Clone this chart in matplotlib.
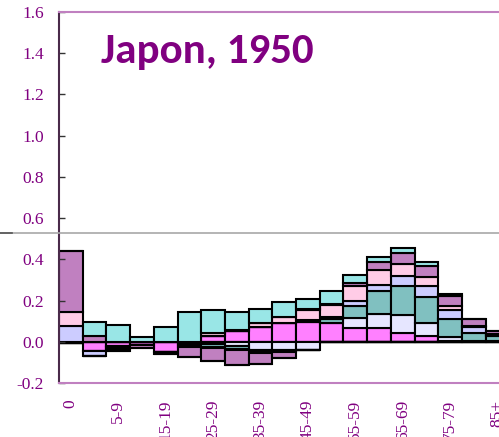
import matplotlib
matplotlib.use("Agg")
import matplotlib.pyplot as plt
from matplotlib.lines import Line2D
import numpy as np

plt.rcParams['font.family'] = 'serif'
plt.rcParams['font.serif'] = ['Liberation Serif', 'DejaVu Serif']

ages = ['0', '1-4', '5-9', '10-14', '15-19', '20-24', '25-29', '30-34', '35-39',
        '40-44', '45-49', '50-54', '55-59', '60-64', '65-69', '70-74', '75-79',
        '80-84', '85+']

# components, stacked from zero outward in this order
comp_a = [-0.004, -0.047, -0.020, -0.018, -0.050, -0.012, 0.027, 0.050, 0.072,
          0.090, 0.095, 0.090, 0.067, 0.068, 0.045, 0.030, 0.005, 0.003, 0.002]
comp_b = [0.0, 0.0, -0.005, 0.0, 0.0, -0.003, -0.012, -0.022, -0.038,
          -0.042, -0.040, 0.0, 0.047, 0.067, 0.085, 0.060, 0.016, 0.003, 0.002]
comp_c = [0.0, 0.0, -0.008, 0.0, 0.0, -0.012, -0.015, -0.012, -0.012,
          -0.006, 0.004, 0.020, 0.062, 0.110, 0.143, 0.126, 0.090, 0.038, 0.025]
comp_d = [0.077, -0.023, 0.0, 0.0, 0.0, 0.0, -0.005, -0.004, -0.005,
          0.0, 0.008, 0.012, 0.024, 0.031, 0.044, 0.054, 0.042, 0.030, 0.006]
comp_e = [0.069, 0.0, 0.0, 0.0, 0.0, 0.0, 0.015, 0.008, 0.018,
          0.030, 0.045, 0.055, 0.070, 0.070, 0.061, 0.046, 0.022, 0.003, 0.003]
comp_f = [0.294, 0.030, -0.012, -0.010, -0.008, -0.045, -0.061, -0.075, -0.053,
          -0.029, 0.005, 0.008, 0.015, 0.040, 0.054, 0.053, 0.047, 0.032, 0.012]
comp_g = [0.0, 0.068, 0.082, 0.022, 0.073, 0.146, 0.110, 0.088, 0.070,
          0.072, 0.050, 0.060, 0.039, 0.024, 0.025, 0.017, 0.008, 0.0, 0.002]

components = [comp_a, comp_b, comp_c, comp_d, comp_e, comp_f, comp_g]
colors = ['#FF80FF', '#E6E6FF', '#80C0C0', '#CCCCFF', '#FFCCE6', '#C080C0', '#99E6E6']

title = "Japon, 1950"
purple = '#800080'

W, H = 499, 437
fig = plt.figure(figsize=(W / 100, H / 100), dpi=100)
ax = fig.add_axes([59 / W, 1 - 383 / H, 1 - 59 / W, (383 - 12) / H])

x = np.arange(len(ages))
pos_base = np.zeros(len(ages))
neg_base = np.zeros(len(ages))
for vals, col in zip(components, colors):
    v = np.array(vals)
    p = np.where(v > 0, v, 0)
    n = np.where(v < 0, v, 0)
    ax.bar(x, p, bottom=pos_base, width=1.0, color=col, edgecolor='black', linewidth=1.5)
    ax.bar(x, n, bottom=neg_base, width=1.0, color=col, edgecolor='black', linewidth=1.5)
    pos_base += p
    neg_base += n

ax.set_xlim(-0.5, 18.06)
ax.set_ylim(-0.2, 1.6)
yt = np.arange(-0.2, 1.61, 0.2)
ax.set_yticks(yt)
ax.set_yticklabels([f"{t:.1f}" for t in yt], fontsize=12.5, color=purple)
ax.set_xticks(x[::2])
ax.set_xticklabels(ages[::2], rotation=90, fontsize=12.5, color=purple, va='top')
ax.tick_params(axis='y', direction='in', length=4, width=1, color='#333333', pad=11)
ax.tick_params(axis='x', length=0, pad=12)

ax.spines['right'].set_visible(False)
ax.spines['left'].set_color('#4A2A4A')
ax.spines['left'].set_linewidth(1.5)
ax.spines['top'].set_color('#C080C0')
ax.spines['top'].set_linewidth(1.5)
ax.spines['bottom'].set_color('#C080C0')
ax.spines['bottom'].set_linewidth(1.5)

# horizontal grey rule across the figure
yl = 1 - 233 / H
fig.add_artist(Line2D([0, 1], [yl, yl], transform=fig.transFigure, color='#A8A8A8', lw=1.2))
fig.add_artist(Line2D([0, 12 / W], [yl, yl], transform=fig.transFigure, color='#555555', lw=1.2))

fig.text(101 / W, 1 - 63 / H, title, family=['Carlito', 'Lato'], weight='bold', fontsize=31,
         color=purple, ha='left', va='baseline')

fig.savefig('out.png', dpi=100)
